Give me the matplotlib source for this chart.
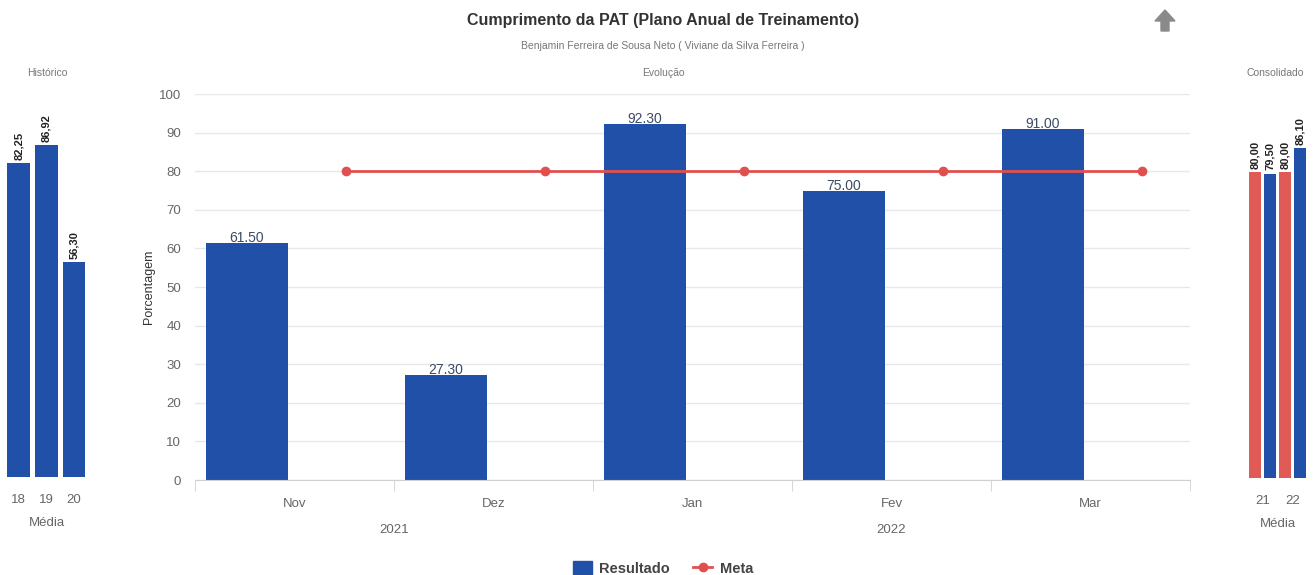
import matplotlib.pyplot as plt
from matplotlib.patches import Polygon
from matplotlib.lines import Line2D
from matplotlib.patches import Patch
import matplotlib.transforms as mtransforms
import numpy as np

plt.rcParams['font.family'] = ['Liberation Sans', 'DejaVu Sans']

# data
months = ['Nov', 'Dez', 'Jan', 'Fev', 'Mar']
years = ['2021', '2022']
month_year = [0, 0, 1, 1, 1]
resultado = [61.50, 27.30, 92.30, 75.00, 91.00]
meta = [80, 80, 80, 80, 80]

hist_labels = ['18', '19', '20']
hist_values = [82.25, 86.92, 56.30]

cons_labels = ['21', '22']
cons_meta = [80.00, 80.00]
cons_result = [79.50, 86.10]

BLUE = '#2150a8'
RED = '#e0504f'
GRAY = '#666666'
DARK = '#333333'

fig = plt.figure(figsize=(13.13, 5.75), dpi=100)


def fmt_comma(v):
    return f'{v:.2f}'.replace('.', ',')


# ---- main chart
ax = fig.add_axes([0.1485, 0.1652, 0.7578, 0.6713])
x = np.arange(len(months))
ax.bar(x - 0.24, resultado, width=0.41, color=BLUE, zorder=2)
ax.plot(x + 0.26, meta, color=RED, lw=2, marker='o', ms=6, zorder=3)
for xi, v in zip(x, resultado):
    ax.text(xi - 0.24, v - 0.6, f'{v:.2f}', ha='center', va='bottom',
            fontsize=10, color='#3c4a66', zorder=4)
ax.set_xlim(-0.5, len(months) - 0.5)
ax.set_ylim(0, 100)
ax.set_yticks(range(0, 101, 10))
ax.yaxis.grid(True, color='#e8e8e8', lw=1)
ax.set_axisbelow(True)
for s in ['top', 'right', 'left']:
    ax.spines[s].set_visible(False)
ax.spines['bottom'].set_color('#d0d0d0')
ax.set_xticks(x)
ax.set_xticklabels(months)
ax.set_xticks(np.arange(-0.5, len(months), 1), minor=True)
ax.tick_params(axis='x', which='major', length=0, pad=13, labelsize=9.5, labelcolor=GRAY)
ax.tick_params(axis='x', which='minor', length=8, color='#d0d0d0')
ax.tick_params(axis='y', length=0, pad=10, labelsize=9.5, labelcolor=GRAY)
ax.set_ylabel('Porcentagem', fontsize=9, color=DARK, labelpad=3)
trans = mtransforms.blended_transform_factory(ax.transData, ax.transAxes)
for i, yr in enumerate(years):
    idx = [k for k, m in enumerate(month_year) if m == i]
    ax.text(np.mean(idx), -0.13, yr, transform=trans, ha='center', va='center',
            fontsize=9.5, color=GRAY)

# ---- historico
axh = fig.add_axes([0.0038, 0.1704, 0.0632, 0.664])
xh = np.arange(len(hist_labels))
axh.bar(xh, hist_values, width=0.82, color=BLUE)
for xi, v in zip(xh, hist_values):
    axh.text(xi, v + 0.8, fmt_comma(v), rotation=90, ha='center', va='bottom',
             fontsize=8, fontweight='bold', color='#222222')
axh.set_xlim(-0.5, len(hist_labels) - 0.5)
axh.set_ylim(0, 100)
axh.set_yticks([])
axh.set_xticks(xh)
axh.set_xticklabels(hist_labels)
axh.tick_params(axis='x', length=0, pad=12, labelsize=9.5, labelcolor=GRAY)
for s in axh.spines.values():
    s.set_visible(False)
axh.set_xlabel('Média', fontsize=9.5, color=GRAY, labelpad=8)

# ---- consolidado
axc = fig.add_axes([0.9505, 0.1687, 0.0451, 0.666])
xc = np.arange(len(cons_labels))
axc.bar(xc - 0.25, cons_meta, width=0.41, color='#e05a56')
axc.bar(xc + 0.25, cons_result, width=0.41, color=BLUE)
for xi, v in zip(xc, cons_meta):
    axc.text(xi - 0.25, v + 0.8, fmt_comma(v), rotation=90, ha='center', va='bottom',
             fontsize=8, fontweight='bold', color='#222222')
for xi, v in zip(xc, cons_result):
    axc.text(xi + 0.25, v + 0.8, fmt_comma(v), rotation=90, ha='center', va='bottom',
             fontsize=8, fontweight='bold', color='#222222')
axc.set_xlim(-0.5, len(cons_labels) - 0.5)
axc.set_ylim(0, 100)
axc.set_yticks([])
axc.set_xticks(xc)
axc.set_xticklabels(cons_labels)
axc.tick_params(axis='x', length=0, pad=12, labelsize=9.5, labelcolor=GRAY)
for s in axc.spines.values():
    s.set_visible(False)
axc.set_xlabel('Média', fontsize=9.5, color=GRAY, labelpad=8)

# ---- titles
fig.text(0.505, 0.965, 'Cumprimento da PAT (Plano Anual de Treinamento)', ha='center',
         va='center', fontsize=11.5, fontweight='bold', color='#333333')
fig.text(0.505, 0.92, 'Benjamin Ferreira de Sousa Neto ( Viviane da Silva Ferreira )',
         ha='center', va='center', fontsize=7.5, color='#777777')
fig.text(0.505, 0.873, 'Evolução', ha='center', va='center', fontsize=7.5, color='#777777')
fig.text(0.036, 0.873, 'Histórico', ha='center', va='center', fontsize=7.5, color='#777777')
fig.text(0.971, 0.873, 'Consolidado', ha='center', va='center', fontsize=7.5, color='#777777')

# up arrow icon
arrow = Polygon([(1165, 10), (1175, 21), (1169, 21), (1169, 31), (1161, 31),
                 (1161, 21), (1155, 21)], closed=True, color='#8a8a8a',
                transform=mtransforms.Affine2D().scale(1 / 1313, -1 / 575).translate(0, 1)
                + fig.transFigure)
fig.patches.append(arrow)

# legend
handles = [Patch(color=BLUE, label='Resultado'),
           Line2D([], [], color=RED, lw=2, marker='o', ms=6, label='Meta')]
leg = fig.legend(handles=handles, loc='center', bbox_to_anchor=(0.505, 0.012), ncol=2,
                 frameon=False, fontsize=10.5, handlelength=1.3, handleheight=1.1,
                 columnspacing=1.6, handletextpad=0.5)
for t in leg.get_texts():
    t.set_color('#444444')
    t.set_fontweight('bold')

fig.savefig('out.png', dpi=100)
